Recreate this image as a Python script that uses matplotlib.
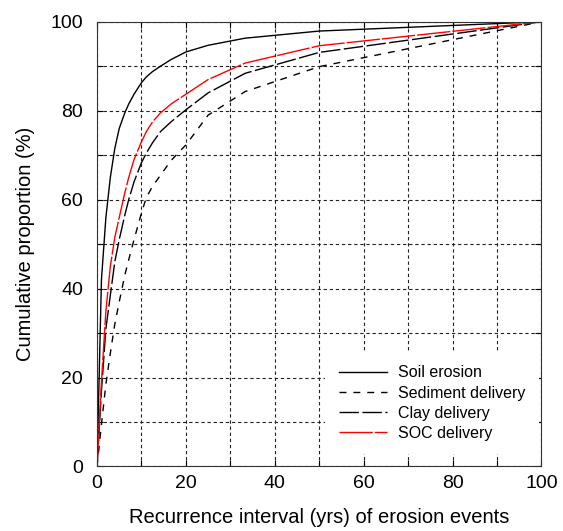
import matplotlib
matplotlib.use("Agg")
import matplotlib.pyplot as plt
from matplotlib.ticker import MultipleLocator

plt.rcParams['font.family'] = ['Liberation Sans', 'DejaVu Sans']

# recurrence interval (yrs), roughly 100/k
interval = [0, 1, 2, 3, 4, 5, 6.25, 7.14, 8.33, 10, 11.11, 12.5, 14.29,
            16.67, 20, 25, 33.33, 50, 100]

# cumulative proportion (%)
soil_erosion = [0, 42, 56, 65, 71.5, 76, 79.5, 81.5, 83.7, 86.3, 87.6, 88.8,
                90.0, 91.5, 93.2, 94.7, 96.3, 97.9, 100]
sediment_delivery = [0, 9.5, 18.5, 25.5, 32, 37, 43, 46.5, 51, 57, 60.5, 63,
                     65.5, 68.8, 72.3, 79.0, 84.3, 89.9, 100]
clay_delivery = [0, 17, 31, 38.5, 46, 51, 56.5, 60, 64, 68.3, 70.5, 72.8,
                 75.3, 77.5, 80.2, 84.0, 88.4, 93.1, 100]
soc_delivery = [0, 19, 35, 45, 51.5, 56, 61.5, 65, 69, 73, 75.3, 77.5,
                79.5, 81.5, 83.7, 87.0, 90.7, 94.6, 100]

fig = plt.figure(figsize=(5.63, 5.31), dpi=100)
ax = fig.add_axes([0.1723, 0.1215, 0.7895, 0.8376])

ax.plot(interval, soil_erosion, color='black', lw=1.0, label='Soil erosion')
ax.plot(interval, sediment_delivery, color='black', lw=1.0,
        linestyle=(0, (5, 5)), label='Sediment delivery')
ax.plot(interval, clay_delivery, color='black', lw=1.0,
        linestyle=(0, (14, 2.5)), label='Clay delivery')
ax.plot(interval, soc_delivery, color='red', lw=1.0,
        linestyle=(0, (24, 1.5)), label='SOC delivery')

ax.set_xlim(0, 100)
ax.set_ylim(0, 100)
ax.xaxis.set_major_locator(MultipleLocator(20))
ax.yaxis.set_major_locator(MultipleLocator(20))
ax.xaxis.set_minor_locator(MultipleLocator(10))
ax.yaxis.set_minor_locator(MultipleLocator(10))
ax.tick_params(which='both', direction='in', top=True, right=True,
               length=4, width=0.8, labelsize=14)
ax.tick_params(axis='x', pad=6)
ax.tick_params(axis='y', pad=10)

ax.set_axisbelow(True)
ax.grid(which='both', color='#222222', lw=0.8, linestyle=(0, (3, 2.5)))
for s in ax.spines.values():
    s.set_color('#333333')
    s.set_linewidth(0.8)

ax.set_xlabel('Recurrence interval (yrs) of erosion events', fontsize=14.5,
              labelpad=12)
ax.set_ylabel('Cumulative proportion (%)', fontsize=14.5, labelpad=11)

leg = ax.legend(loc='upper left', bbox_to_anchor=(0.513, 0.2577),
                borderaxespad=0, fontsize=11.5, frameon=True, fancybox=False,
                handlelength=3.0, handletextpad=0.7, labelspacing=0.32,
                borderpad=0.85)
leg.get_frame().set_facecolor('white')
leg.get_frame().set_edgecolor('none')
leg.get_frame().set_alpha(1)

fig.savefig('out.png', dpi=100)
